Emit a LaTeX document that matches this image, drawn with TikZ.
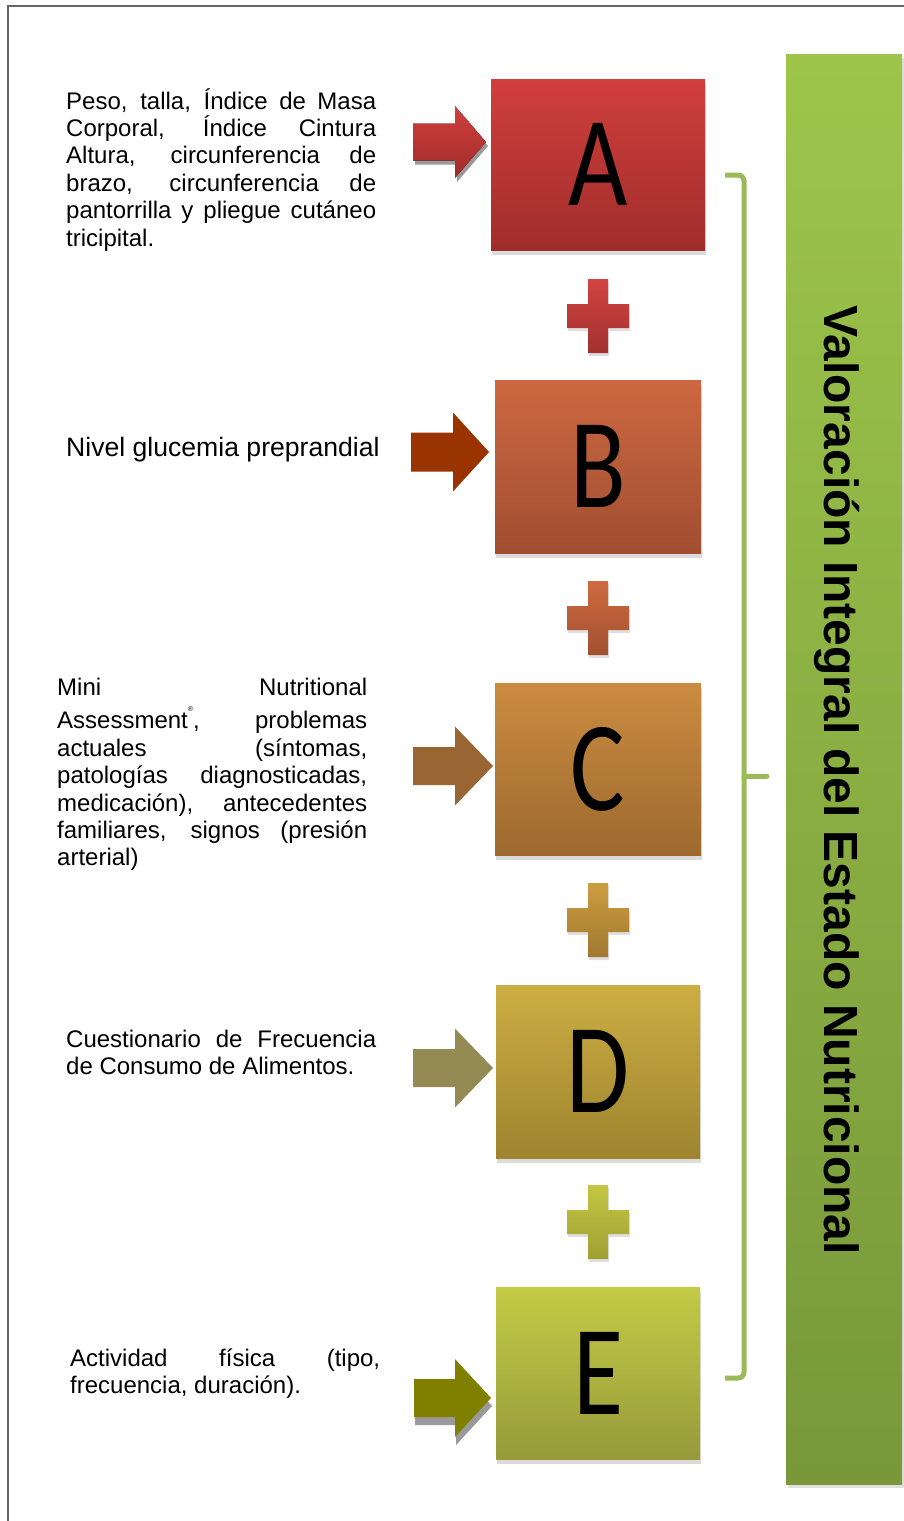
\documentclass[tikz,border=0pt]{standalone}
\usepackage{fontspec}
\setmainfont{Liberation Sans}
\newfontfamily\letterfont{Carlito}
\usetikzlibrary{shadows}

\definecolor{Atop}{HTML}{D03F3D}\definecolor{Abot}{HTML}{A02D2B}
\definecolor{Btop}{HTML}{CC6841}\definecolor{Bbot}{HTML}{A14E31}
\definecolor{Ctop}{HTML}{CB8C41}\definecolor{Cbot}{HTML}{9D692E}
\definecolor{Dtop}{HTML}{CCAE43}\definecolor{Dbot}{HTML}{9E842F}
\definecolor{Etop}{HTML}{C3CB46}\definecolor{Ebot}{HTML}{979A3A}
\definecolor{P1top}{HTML}{D04440}\definecolor{P1bot}{HTML}{A33030}
\definecolor{P2top}{HTML}{CF6B40}\definecolor{P2bot}{HTML}{A05030}
\definecolor{P3top}{HTML}{CD9D40}\definecolor{P3bot}{HTML}{A07830}
\definecolor{P4top}{HTML}{C4C642}\definecolor{P4bot}{HTML}{A0A034}
\definecolor{barTop}{HTML}{9DC54B}\definecolor{barBot}{HTML}{78983A}
\definecolor{braceGreen}{HTML}{9BBB59}
\definecolor{arrB}{HTML}{993300}
\definecolor{arrC}{HTML}{996633}
\definecolor{arrD}{HTML}{948A54}
\definecolor{arrE}{HTML}{808000}
\definecolor{arrShade}{HTML}{9A9A9A}
\definecolor{frameGray}{HTML}{666666}

% block arrow: #1 style, #2 tail x, #3 head start x, #4 tip x, #5 tip y, #6 shaft half, #7 head half
\newcommand\blockarr[7]{%
  \fill[#1] (#2,#5-#6) -- (#3,#5-#6) -- (#3,#5-#7) -- (#4,#5) -- (#3,#5+#7)
    -- (#3,#5+#6) -- (#2,#5+#6) -- cycle;}

% plus sign: #1 centre x, #2 centre y, #3 top colour, #4 bottom colour
\newcommand\plusmark[4]{%
  \path[top color=#3, bottom color=#4, drop shadow={shadow xshift=1pt, shadow yshift=-3pt, opacity=0.25}]
    (#1-31,#2-12) -- (#1-10,#2-12) -- (#1-10,#2-37) -- (#1+10,#2-37) -- (#1+10,#2-12)
    -- (#1+31,#2-12) -- (#1+31,#2+12) -- (#1+10,#2+12) -- (#1+10,#2+37) -- (#1-10,#2+37)
    -- (#1-10,#2+12) -- (#1-31,#2+12) -- cycle;}

% narrowed capital for the letter boxes
\newcommand\boxletter[1]{\scalebox{0.8}[1]{#1}}

\begin{document}
\begin{tikzpicture}[x=1pt,y=-1pt,
  letterbox/.style={draw=none, inner sep=0pt,
    font=\letterfont\fontsize{128}{128}\selectfont,
    drop shadow={shadow xshift=1pt, shadow yshift=-5pt, opacity=0.28}},
  bodytext/.style={anchor=base west, inner sep=0pt, text width=310pt, align=justify,
    font=\fontsize{24}{27.4}\selectfont},
  brace/.style={draw=braceGreen, line width=5pt, rounded corners=6pt}]

\useasboundingbox (0,0) rectangle (904,1521);
\fill[white] (0,0) rectangle (904,1521);

% page frame
\draw[frameGray, line width=1.5pt] (904,6) -- (8,6) -- (8,1521);

% green title bar
\node[draw=none, inner sep=0pt, minimum width=116pt, minimum height=1430pt,
  top color=barTop, bottom color=barBot,
  drop shadow={shadow xshift=2pt, shadow yshift=-4pt, opacity=0.25}] (bar) at (844,769) {};
\node[rotate=-90, anchor=base, inner sep=0pt,
  font=\bfseries\fontsize{48}{48}\selectfont] (title) at (824,780)
  {Valoración Integral del Estado Nutricional};

% bracket
\coordinate (brTop) at (725,175);
\coordinate (brTopC) at (744,175);
\coordinate (brBotC) at (744,1378);
\coordinate (brBot) at (725,1378);
\coordinate (brMid) at (744,776);
\coordinate (brTip) at (767,776);
\draw[brace] (brTop) -- (brTopC) -- (brBotC) -- (brBot);
\draw[brace, line cap=round] (brMid) -- (brTip);

% letter boxes
\node[letterbox, top color=Atop, bottom color=Abot, minimum width=214pt, minimum height=171pt] (A) at (598,164.5) {\boxletter{A}};
\node[letterbox, top color=Btop, bottom color=Bbot, minimum width=206pt, minimum height=173pt] (B) at (598,466.5) {\boxletter{B}};
\node[letterbox, top color=Ctop, bottom color=Cbot, minimum width=206pt, minimum height=172pt] (C) at (598,769) {\boxletter{C}};
\node[letterbox, top color=Dtop, bottom color=Dbot, minimum width=204pt, minimum height=173pt] (D) at (598,1071.5) {\boxletter{D}};
\node[letterbox, top color=Etop, bottom color=Ebot, minimum width=204pt, minimum height=172pt] (E) at (598,1373) {\boxletter{E}};

% plus signs between the boxes
\plusmark{598}{316}{P1top}{P1bot}
\plusmark{598}{618}{P2top}{P2bot}
\plusmark{598}{920}{P3top}{P3bot}
\plusmark{598}{1222}{P4top}{P4bot}

% arrows pointing at the boxes
\blockarr{arrShade, shift={(2,4)}}{413}{455}{486}{142}{18.5}{36}
\blockarr{top color=Atop, bottom color=Abot}{413}{455}{486}{142}{18.5}{36}
\blockarr{arrB}{411}{453}{489}{452}{19.5}{39.5}
\blockarr{arrC}{413}{455}{493}{766}{19}{39.5}
\blockarr{arrD}{413}{455}{493}{1068}{19}{39.5}
\blockarr{arrShade, shift={(1,8)}}{414}{455}{491}{1398}{19}{39}
\blockarr{arrE}{414}{455}{491}{1398}{19}{39}

% descriptions
\node[bodytext] (tA) at (66,109) {\tolerance=10000
  Peso, talla, Índice de Masa\linebreak
  Corporal, Índice Cintura\linebreak
  Altura, circunferencia de\linebreak
  brazo, circunferencia de\linebreak
  pantorrilla y pliegue cutáneo\linebreak
  tricipital.};
\node[anchor=base west, inner sep=0pt, font=\fontsize{26.6}{30}\selectfont] (tB) at (66,456)
  {Nivel glucemia preprandial};
\node[bodytext] (tC) at (57,695) {\tolerance=10000 \lineskiplimit=-100pt
  Mini Nutritional\vadjust{\kern6.5pt}\linebreak
  Assessment\raisebox{17pt}{\fontsize{7}{7}\selectfont ®}, problemas\linebreak
  actuales (síntomas,\linebreak
  patologías diagnosticadas,\linebreak
  medicación), antecedentes\linebreak
  familiares, signos (presión\linebreak
  arterial)};
\node[bodytext] (tD) at (66,1047) {\tolerance=10000
  Cuestionario de Frecuencia\linebreak
  de Consumo de Alimentos.};
\node[bodytext] (tE) at (70,1366) {\tolerance=10000
  Actividad física (tipo,\linebreak
  frecuencia, duración).};

\end{tikzpicture}
\end{document}
